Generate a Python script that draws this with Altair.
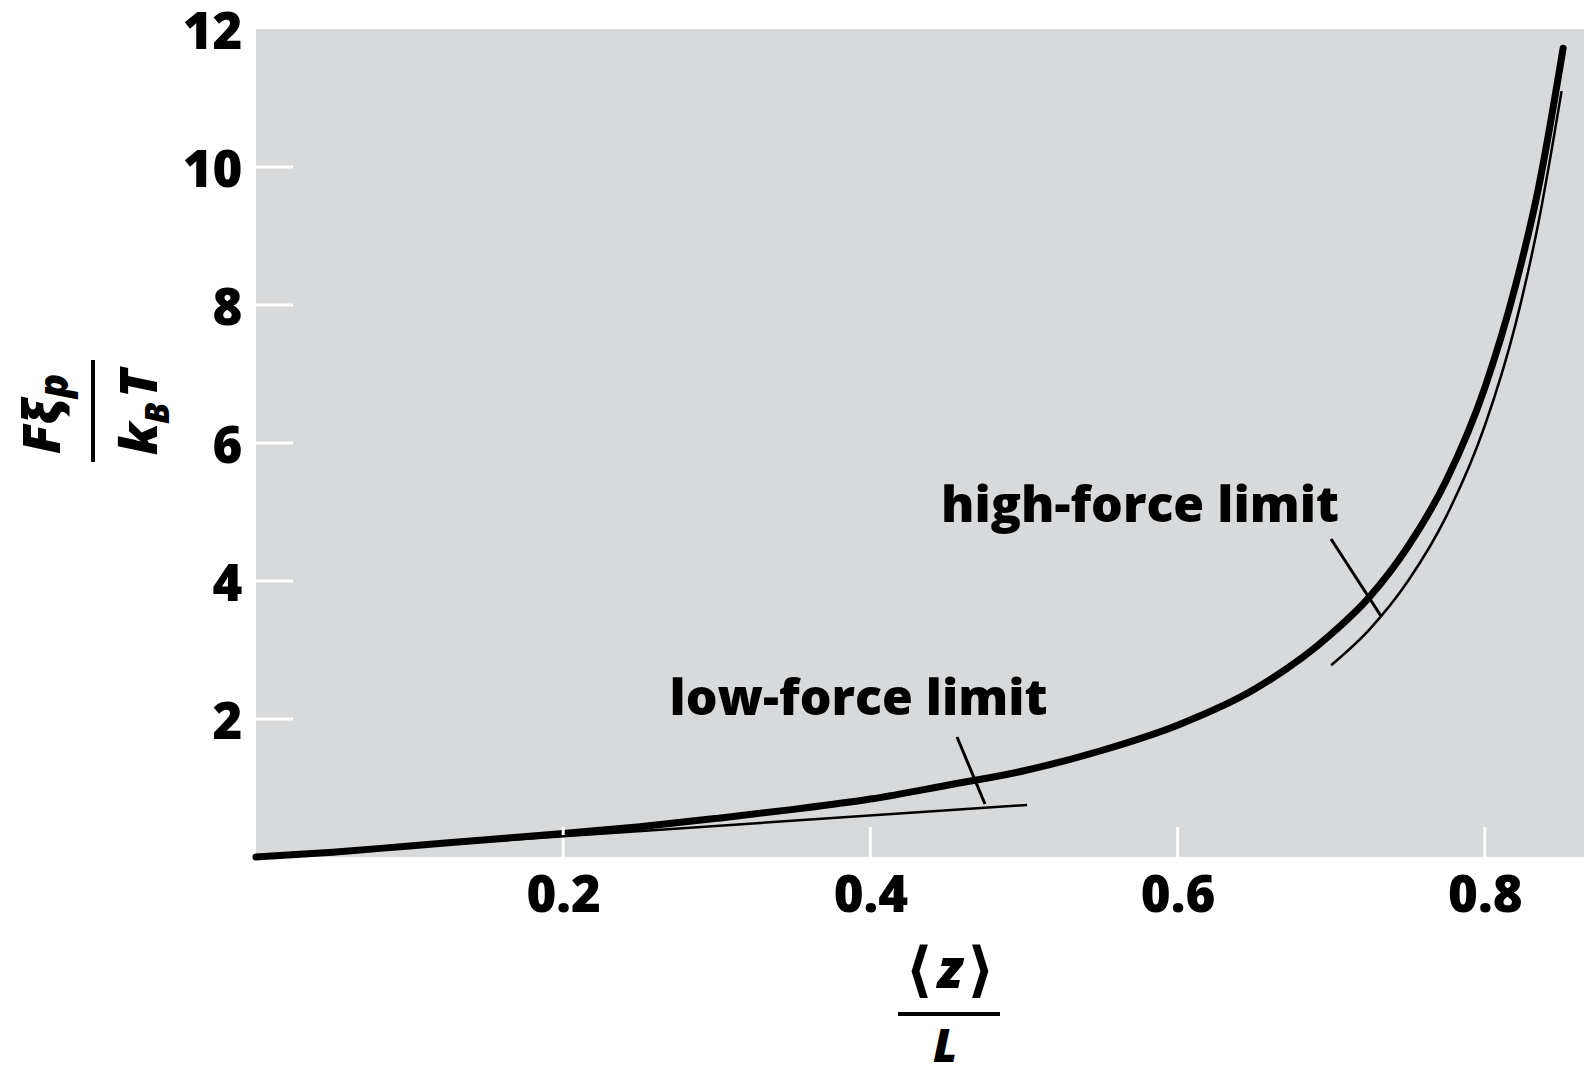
import altair as alt
import pandas as pd

# ---------------- data ----------------
# full worm-like-chain curve (thick)
wlc_x = [0.0, 0.05, 0.10, 0.15, 0.20, 0.25, 0.30, 0.35, 0.40, 0.45, 0.50, 0.55,
         0.60, 0.65, 0.70, 0.725, 0.75, 0.775, 0.80, 0.82, 0.835, 0.851]
wlc_y = [0.0, 0.07, 0.16, 0.25, 0.34, 0.44, 0.56, 0.69, 0.84, 1.04, 1.25, 1.54,
         1.91, 2.43, 3.23, 3.77, 4.50, 5.46, 6.80, 8.28, 9.70, 11.72]

# low-force limit (thin straight line)
low_x = [0.0, 0.502]
low_y = [0.0, 0.754]

# high-force limit (thin curve)
high_x = [0.70, 0.725, 0.75, 0.775, 0.80, 0.82, 0.835, 0.850]
high_y = [2.78, 3.30, 4.00, 4.94, 6.25, 7.72, 9.20, 11.10]

# annotations
ann_text = ["low-force limit", "high-force limit"]
ann_x = [0.3923, 0.5755]
ann_y = [2.06, 4.855]

# pointer strokes from labels to curves
ptr_x = [0.4564, 0.6999]
ptr_y = [1.739, 4.609]
ptr_x2 = [0.4746, 0.7324]
ptr_y2 = [0.768, 3.493]

# ticks
x_ticks = [0.2, 0.4, 0.6, 0.8]
y_ticks = [2, 4, 6, 8, 10, 12]
y_white_ticks = [2, 4, 6, 8, 10]

X_MAX = 0.8646
Y_MAX = 12

# ---------------- layout ----------------
PAGE_W, PAGE_H = 1584, 1074
PLOT_L, PLOT_T = 256, 29
PLOT_W, PLOT_H = 1328, 828
FONT = "Open Sans"
BG = "#d8d9db"

xs = alt.Scale(domain=[0, X_MAX], nice=False, zero=False)
ys = alt.Scale(domain=[0, Y_MAX], nice=False, zero=False)

x_axis = alt.Axis(values=x_ticks, format=".1f", grid=False, domain=False, ticks=False,
                  labelFont=FONT, labelFontWeight=800, labelFontSize=51,
                  labelColor="black", labelPadding=14, title=None, labelBaseline="top")
y_axis = alt.Axis(values=y_ticks, format="d", grid=False, domain=False, ticks=False,
                  labelFont=FONT, labelFontWeight=800, labelFontSize=51,
                  labelColor="black", labelPadding=14, labelOffset=4, title=None)


def X(field="x"):
    return alt.X(f"{field}:Q", scale=xs, axis=x_axis)


def Y(field="y"):
    return alt.Y(f"{field}:Q", scale=ys, axis=y_axis)


df_wlc = pd.DataFrame({"x": wlc_x, "y": wlc_y})
df_low = pd.DataFrame({"x": low_x, "y": low_y})
df_high = pd.DataFrame({"x": high_x, "y": high_y})
df_ann = pd.DataFrame({"x": ann_x, "y": ann_y, "t": ann_text})
df_ptr = pd.DataFrame({"x": ptr_x, "y": ptr_y, "x2": ptr_x2, "y2": ptr_y2})
df_xt = pd.DataFrame({"x": x_ticks})
df_yt = pd.DataFrame({"y": y_white_ticks})

layers = []

# thick main curve (carries the axes)
layers.append(alt.Chart(df_wlc).mark_line(color="black", strokeWidth=7, strokeCap="round",
                                           interpolate="monotone").encode(x=X(), y=Y()))

# white inner ticks
layers.append(alt.Chart(df_yt).mark_rule(color="white", strokeWidth=3).encode(
    y=Y(), x=alt.value(0), x2=alt.value(37)))
layers.append(alt.Chart(df_xt).mark_rule(color="white", strokeWidth=3).encode(
    x=X(), y=alt.value(PLOT_H - 30), y2=alt.value(PLOT_H)))

# thin limit lines
layers.append(alt.Chart(df_low).mark_line(color="black", strokeWidth=2.5).encode(
    x=X(), y=Y()))
layers.append(alt.Chart(df_high).mark_line(color="black", strokeWidth=2.5,
                                            interpolate="monotone").encode(x=X(), y=Y()))

# pointers
layers.append(alt.Chart(df_ptr).mark_rule(color="black", strokeWidth=3).encode(
    x=X(), y=Y(), x2="x2:Q", y2="y2:Q"))

# annotation labels
layers.append(alt.Chart(df_ann).mark_text(font=FONT, fontWeight=800, fontSize=50,
                                          align="center", baseline="alphabetic",
                                          color="black").encode(
    x=X(), y=Y(), text="t:N"))

# ---------------- axis titles as fractions (page coordinates) ----------------
title_pieces = [
    # text, page x, page y, size, italic, angle, align
    ("Fξ", 60, 454, 52, True, 270, "left"),
    ("p", 68, 398, 40, True, 270, "left"),
    ("k", 157, 455, 52, True, 270, "left"),
    ("B", 169, 424, 34, True, 270, "left"),
    ("T", 157, 398, 52, True, 270, "left"),
    ("⟨", 919, 990, 60, False, 0, "center"),
    ("z", 950, 988, 54, True, 0, "center"),
    ("⟩", 981, 990, 60, False, 0, "center"),
    ("L", 945, 1062, 46, True, 0, "center"),
]
anchor_df = pd.DataFrame({"a": [0]})
for txt, px, py, size, ital, ang, al in title_pieces:
    kw = dict(text=txt, font=FONT, fontWeight=800, fontSize=size, angle=ang,
              align=al, baseline="alphabetic", color="black")
    if ital:
        kw["fontStyle"] = "italic"
    if txt in ("⟨", "⟩"):
        kw["font"] = "DejaVu Sans"
        kw["fontWeight"] = "bold"
    layers.append(alt.Chart(anchor_df).mark_text(**kw).encode(
        x=alt.value(px - PLOT_L), y=alt.value(py - PLOT_T)))

# fraction bars
layers.append(alt.Chart(anchor_df).mark_rule(color="black", strokeWidth=4).encode(
    x=alt.value(93 - PLOT_L), y=alt.value(360 - PLOT_T), y2=alt.value(462 - PLOT_T)))
layers.append(alt.Chart(anchor_df).mark_rule(color="black", strokeWidth=4).encode(
    x=alt.value(898 - PLOT_L), x2=alt.value(1000 - PLOT_L), y=alt.value(1014 - PLOT_T)))

chart = alt.layer(*layers).properties(
    width=PLOT_W, height=PLOT_H,
    autosize=alt.AutoSizeParams(type="none"),
    padding={"left": PLOT_L, "top": PLOT_T, "right": PAGE_W - PLOT_L - PLOT_W,
             "bottom": PAGE_H - PLOT_T - PLOT_H},
    background="white",
).configure_view(fill=BG, strokeWidth=0)

chart.save("out.html", embed_options={"renderer": "svg", "actions": False})
